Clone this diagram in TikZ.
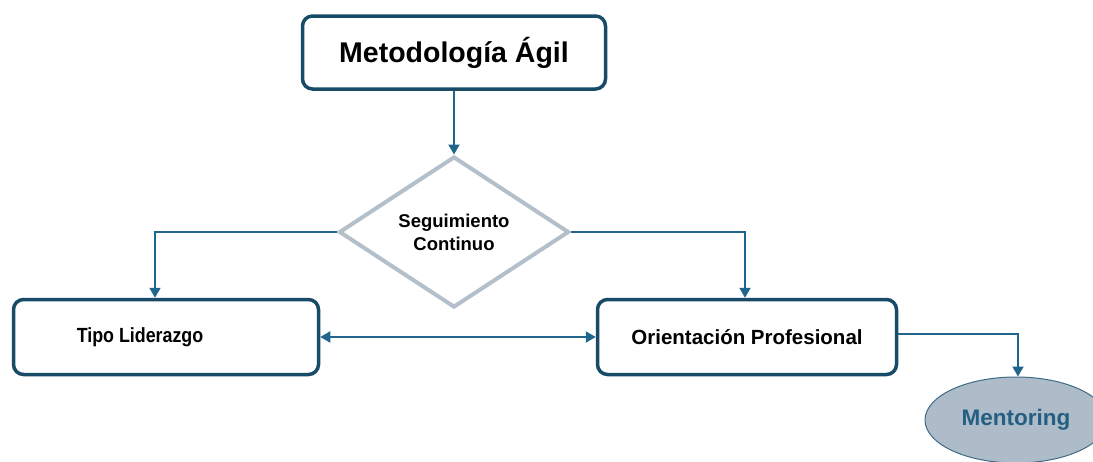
\documentclass[tikz,border=0pt]{standalone}
\usepackage{fontspec}
\setmainfont{Liberation Sans}
\usetikzlibrary{shapes.geometric,arrows.meta}
\definecolor{boxedge}{HTML}{174B67}
\definecolor{arrowcol}{HTML}{20668C}
\definecolor{diagedge}{HTML}{B3BFCA}
\definecolor{mentfill}{HTML}{AEBBC8}
\definecolor{mentedge}{HTML}{3E6B88}
\definecolor{menttext}{HTML}{245F82}

\begin{document}
\begin{tikzpicture}[x=1pt, y=-1pt]
\tikzstyle{stepbox}=[draw=boxedge, line width=3.5pt, rounded corners=10pt,
                     fill=white, inner sep=0pt, font=\bfseries\fontsize{20.5}{24}\selectfont]
\tikzstyle{link}=[draw=arrowcol, line width=2pt,
                  -{Triangle[length=10pt, width=11pt]}]
\useasboundingbox (0,0) rectangle (1093,461);
\node[stepbox, minimum width=303, minimum height=73,
      font=\bfseries\fontsize{28.5}{32}\selectfont] (meto) at (454,52.5) {Metodología Ágil};
\node[diamond, draw=diagedge, line width=4pt, fill=white, inner sep=0pt,
      minimum width=230, minimum height=151, align=center,
      font=\bfseries\fontsize{18.5}{23}\selectfont] (segui) at (454,232) {Seguimiento\\Continuo};
\node[stepbox, minimum width=305, minimum height=75] (tipo) at (166,337)
     {\hspace*{-52pt}\scalebox{.87}[1]{Tipo Liderazgo}};
\node[stepbox, minimum width=299, minimum height=75] (orient) at (747,337) {Orientación Profesional};
\node[ellipse, draw=mentedge, line width=1pt, fill=mentfill, inner sep=0pt,
      minimum width=182, minimum height=86, text=menttext,
      font=\bfseries\fontsize{22.5}{26}\selectfont] (mentor) at (1016,420) {Mentoring};
\draw[link] (meto.south) -- (segui.north);
\draw[link] (segui.west) -| ([xshift=-11pt]tipo.north);
\draw[link] (segui.east) -| ([xshift=-2pt]orient.north);
\draw[link, {Triangle[length=10pt, width=11pt]}-{Triangle[length=10pt, width=11pt]}] (tipo.east) -- (orient.west);
\draw[link] ([yshift=3pt]orient.east) -| ([xshift=2pt]mentor.north);
\end{tikzpicture}
\end{document}
